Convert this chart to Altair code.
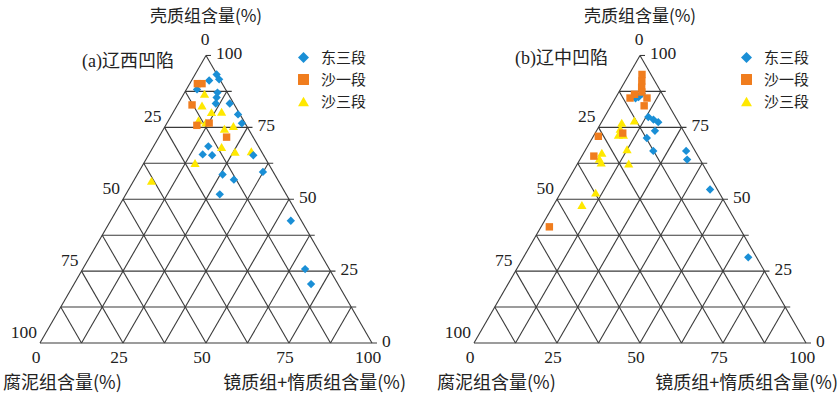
import altair as alt
import pandas as pd

# ---------------- data (ternary: S = 壳质组 %, V = 镜质组+惰质组 %) ----------------
series = ["东三段", "沙一段", "沙三段"]
colors = ["#1a8fd6", "#f07d1e", "#ffe800"]
shapes = ["diamond", "square", "triangle-up"]

# (a) 辽西凹陷
a_dong3_S = [93.4, 91.3, 91.7, 88.2, 87.1, 85.4, 83.3, 83.3, 79.5, 76.4, 68.4, 65.6, 65.3, 65.3, 58.6, 56.8, 59.5, 51.7, 42.5, 25.7, 20.5]
a_dong3_V = [6.5, 5.3, 8.1, 3.2, 9.9, 10.5, 11.3, 15.5, 19.9, 22.6, 16.5, 16.2, 19.2, 31.6, 25.7, 30.0, 37.4, 28.3, 54.3, 67.0, 71.4]
a_sha1_S = [90.2, 90.2, 82.8, 75.7, 76.5, 71.6]
a_sha1_V = [2.3, 3.7, 4.4, 9.4, 12.7, 20.4]
a_sha3_S = [86.7, 82.6, 80.3, 80.4, 77.5, 76.7, 74.5, 75.5, 68.2, 66.5, 66.7, 62.6, 56.4]
a_sha3_V = [6.2, 7.5, 11.5, 14.5, 9.0, 11.6, 18.3, 20.5, 20.6, 25.5, 30.3, 15.4, 5.4]

# (b) 辽中凹陷
b_dong3_S = [85.5, 86.7, 85.1, 78.6, 77.7, 76.8, 73.8, 71.3, 66.8, 66.8, 63.8, 53.4, 29.8]
b_dong3_V = [6.8, 7.2, 6.1, 13.2, 15.2, 17.1, 17.6, 16.4, 20.6, 30.5, 32.3, 44.4, 67.7]
b_sha1_S = [93.4, 91.1, 89.0, 87.3, 85.2, 86.5, 85.2, 82.5, 71.9, 65.0, 73.0, 40.4]
b_sha1_V = [3.9, 5.0, 6.0, 6.9, 4.4, 5.1, 9.5, 10.0, 1.5, 3.6, 8.3, 2.5]
b_sha3_S = [77.4, 76.6, 74.5, 72.4, 72.4, 67.4, 66.2, 64.1, 62.8, 62.4, 52.3, 48.0]
b_sha3_V = [9.6, 6.2, 6.8, 7.3, 8.8, 12.4, 5.4, 5.7, 6.9, 15.4, 10.5, 8.5]

grid_levels = [0, 12.5, 25, 37.5, 50, 62.5, 75, 87.5, 100]
tick_vals = [0, 25, 50, 75, 100]
left_tick_vals = [25, 50, 75, 100]

top_title = "壳质组含量(%)"
left_title = "腐泥组含量(%)"
right_title = "镜质组+惰质组含量(%)"

NUM_FONT = "Liberation Serif, Noto Sans CJK SC"
CJK_FONT = "Noto Sans CJK SC"
LINE = "#3a3a3a"

W, Hh = 420, 397
K = 3.32          # pixels per ternary unit
BASE_PX = 343     # base line pixel row


def to_xy(ch):
    return ch.transform_calculate(X="datum.V + datum.S / 2", Y="datum.S * 0.8660254")


def grid_df(ext=1.5):
    rows = []
    for s in grid_levels:                      # constant 壳质组 (horizontal)
        rows.append(dict(S=s, V=0, S2=s, V2=100 - s + ext))
    for v in grid_levels[:-1]:                 # constant 镜质组+惰质组
        rows.append(dict(S=0, V=v, S2=100 - v, V2=v))
    for p in grid_levels[:-1]:                 # constant 腐泥组
        rows.append(dict(S=0, V=100 - p, S2=100 - p, V2=0))
    return pd.DataFrame(rows)


def panel(vx_px, pts, label, label_x, label_y, legend_x, ltitle_x, rtitle_x):
    xs = alt.Scale(domain=[-vx_px / K, (W - vx_px) / K], nice=False, zero=False)
    ys = alt.Scale(domain=[-(Hh - BASE_PX) / K, BASE_PX / K], nice=False, zero=False)
    X = alt.X("X:Q", scale=xs, axis=None)
    Y = alt.Y("Y:Q", scale=ys, axis=None)

    grid = alt.Chart(grid_df()).transform_calculate(
        X="datum.V + datum.S / 2", Y="datum.S * 0.8660254",
        X2="datum.V2 + datum.S2 / 2", Y2="datum.S2 * 0.8660254",
    ).mark_rule(color=LINE, strokeWidth=1.1).encode(x=X, y=Y, x2="X2:Q", y2="Y2:Q")

    bottom = to_xy(alt.Chart(pd.DataFrame({"V": tick_vals, "S": [0] * 5, "t": [str(v) for v in tick_vals]}))).mark_text(
        font=NUM_FONT, fontSize=17.5, color="#222", align="center", baseline="middle", dx=-4, dy=15
    ).encode(x=X, y=Y, text="t:N")

    right = to_xy(alt.Chart(pd.DataFrame({"S": tick_vals, "t": [str(v) for v in tick_vals]}).assign(V=lambda d: 100 - d.S))).mark_text(
        font=NUM_FONT, fontSize=17.5, color="#222", align="left", baseline="middle", dx=10, dy=-1
    ).encode(x=X, y=Y, text="t:N")

    left = to_xy(alt.Chart(pd.DataFrame({"P": left_tick_vals, "t": [str(v) for v in left_tick_vals]}).assign(S=lambda d: 100 - d.P, V=0))).mark_text(
        font=NUM_FONT, fontSize=17.5, color="#222", align="right", baseline="middle", dx=-3, dy=-10
    ).encode(x=X, y=Y, text="t:N")

    apex0 = to_xy(alt.Chart(pd.DataFrame({"S": [100], "V": [0], "t": ["0"]}))).mark_text(
        font=NUM_FONT, fontSize=17.5, color="#222", align="center", baseline="middle", dx=-1, dy=-15
    ).encode(x=X, y=Y, text="t:N")

    points = to_xy(alt.Chart(pts)).mark_point(filled=True, opacity=1, strokeWidth=0).encode(
        x=X, y=Y,
        color=alt.Color("series:N", scale=alt.Scale(domain=series, range=colors),
                        legend=alt.Legend(orient="none", legendX=legend_x, legendY=50, title=None)),
        shape=alt.Shape("series:N", scale=alt.Scale(domain=series, range=shapes),
                        legend=alt.Legend(orient="none", legendX=legend_x, legendY=50, title=None)),
        size=alt.Size("sz:Q", scale=None, legend=None),
        order=alt.Order("ord:Q"),
    )

    def note(txt, x, y, align, font=CJK_FONT, size=16):
        return alt.Chart(pd.DataFrame({"t": [txt]})).mark_text(
            font=font, fontSize=size, color="#222", align=align, baseline="middle"
        ).encode(x=alt.value(x), y=alt.value(y), text="t:N")

    texts = [
        note(top_title, vx_px + 166, 17, "center", size=17),
        note(label, label_x, label_y, "left", font=NUM_FONT, size=18),
        note(left_title, ltitle_x, 384, "left", size=18),
        note(right_title, rtitle_x, 384, "right", size=18),
    ]
    return alt.layer(grid, bottom, right, left, apex0, points, *texts).properties(width=W, height=Hh)


def make_pts(d_S, d_V, s1_S, s1_V, s3_S, s3_V):
    sizes = {"东三段": 70, "沙一段": 55, "沙三段": 85}
    order = {"沙三段": 0, "东三段": 1, "沙一段": 2}
    frames = []
    for name, S, V in [("沙三段", s3_S, s3_V), ("东三段", d_S, d_V), ("沙一段", s1_S, s1_V)]:
        frames.append(pd.DataFrame({"S": S, "V": V, "series": name, "sz": sizes[name], "ord": order[name]}))
    return pd.concat(frames, ignore_index=True)


pa = make_pts(a_dong3_S, a_dong3_V, a_sha1_S, a_sha1_V, a_sha3_S, a_sha3_V)
pb = make_pts(b_dong3_S, b_dong3_V, b_sha1_S, b_sha1_V, b_sha3_S, b_sha3_V)

chart_a = panel(40, pa, "(a)辽西凹陷", 82, 62, 296, 3, 406)
chart_b = panel(54, pb, "(b)辽中凹陷", 95, 59, 319, 17, 418)

chart = alt.hconcat(chart_a, chart_b, spacing=0).resolve_scale(
    color="independent", shape="independent"
).resolve_legend(color="independent", shape="independent").properties(padding=0).configure_view(
    stroke=None
).configure_legend(
    labelFont=CJK_FONT, labelFontSize=15, labelColor="#222", symbolSize=120,
    rowPadding=6, labelOffset=10, padding=0, symbolStrokeWidth=0
)

chart.save("out.html", embed_options={"renderer": "svg", "actions": False})
